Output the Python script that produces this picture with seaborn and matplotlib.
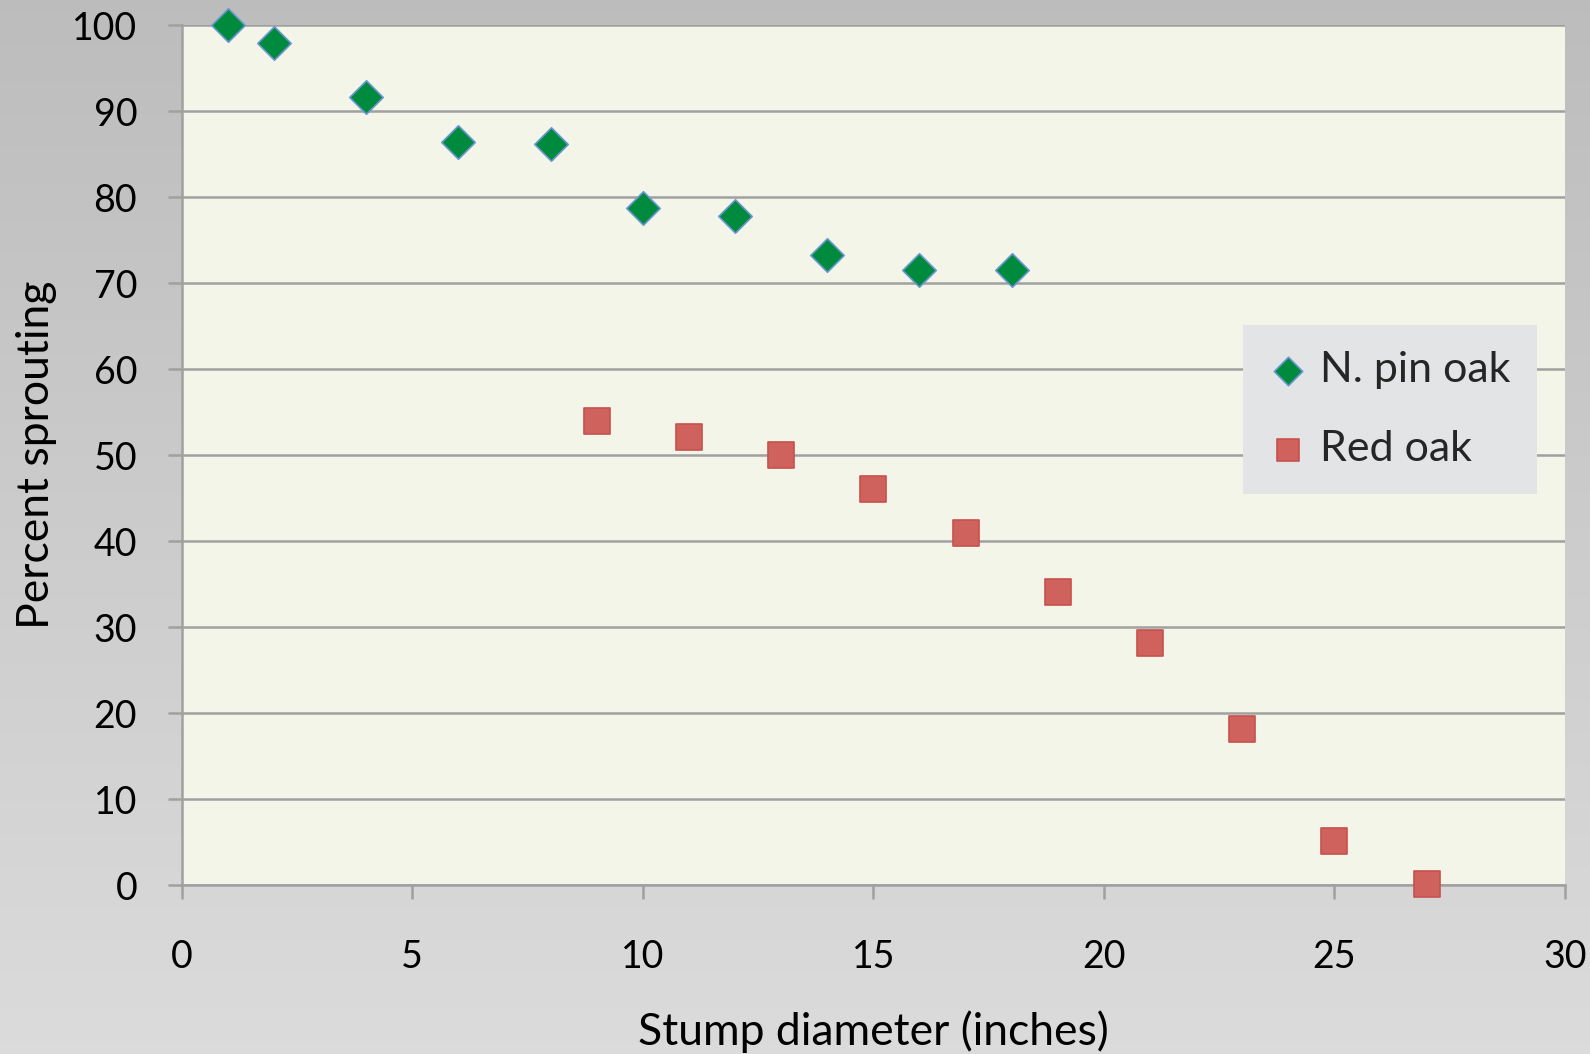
import numpy as np
import pandas as pd
import matplotlib
matplotlib.use("Agg")
import matplotlib.pyplot as plt
import seaborn as sns

# ---- data ----
pin_x = [1, 2, 4, 6, 8, 10, 12, 14, 16, 18]
pin_y = [100, 98, 91.7, 86.4, 86.2, 78.8, 77.8, 73.3, 71.5, 71.5]
red_x = [9, 11, 13, 15, 17, 19, 21, 23, 25, 27]
red_y = [54, 52.1, 50, 46.1, 41, 34.1, 28.1, 18.2, 5.1, 0.1]
series_names = ["N. pin oak", "Red oak"]
x_ticks = [0, 5, 10, 15, 20, 25, 30]
y_ticks = [0, 10, 20, 30, 40, 50, 60, 70, 80, 90, 100]
x_label = "Stump diameter (inches)"
y_label = "Percent sprouting"

pin_df = pd.DataFrame({"x": pin_x, "y": pin_y, "series": series_names[0]})
red_df = pd.DataFrame({"x": red_x, "y": red_y, "series": series_names[1]})

sns.set_theme(style="white")
plt.rcParams["font.family"] = ["Lato", "DejaVu Sans"]

fig = plt.figure(figsize=(15.9, 10.54), dpi=100)

# gradient background
bg = fig.add_axes([0, 0, 1, 1], zorder=-10)
grad = np.linspace(0, 1, 256).reshape(-1, 1)
top = np.array([0.74, 0.74, 0.74])
bot = np.array([0.86, 0.86, 0.86])
img = top[None, None, :] * (1 - grad[:, :, None]) + bot[None, None, :] * grad[:, :, None]
bg.imshow(img, aspect="auto", extent=[0, 1, 0, 1])
bg.set_axis_off()

ax = fig.add_axes([0.1142, 0.1603, 0.8701, 0.8156])
ax.set_facecolor("#F2F5E8")

sns.scatterplot(data=pin_df, x="x", y="y", ax=ax, marker="D", s=290,
                color="#008A3E", edgecolor="#6A96D0", linewidth=1.2,
                label=series_names[0], clip_on=False, zorder=5)
sns.scatterplot(data=red_df, x="x", y="y", ax=ax, marker="s", s=340,
                color="#D0625E", edgecolor="#C8504C", linewidth=1.2,
                label=series_names[1], clip_on=False, zorder=5)

ax.set_xlim(0, 30)
ax.set_ylim(0, 100)
ax.set_xticks(x_ticks)
ax.set_yticks(y_ticks)
ax.set_xticklabels([str(v) for v in x_ticks])
ax.set_yticklabels([str(v) for v in y_ticks])

ax.grid(axis="y", color="#A0A0A0", linewidth=1.8)
ax.grid(axis="x", visible=False)
ax.set_axisbelow(True)

for side in ["top", "right"]:
    ax.spines[side].set_visible(False)
for side in ["left", "bottom"]:
    ax.spines[side].set_visible(True)
    ax.spines[side].set_color("#A0A0A0")
    ax.spines[side].set_linewidth(1.8)

ax.tick_params(axis="y", which="major", direction="out", length=10, width=1.8,
               color="#A0A0A0", labelsize=27, pad=22, left=True, labelcolor="black")
ax.tick_params(axis="x", which="major", direction="out", length=10, width=1.8,
               color="#A0A0A0", labelsize=27, pad=29, bottom=True, labelcolor="black")

ax.set_xlabel(x_label, fontsize=32, labelpad=25, color="black")
ax.set_ylabel(y_label, fontsize=32, labelpad=11, color="black")

leg = ax.legend(loc="upper left", bbox_to_anchor=(0.767, 0.651), frameon=True,
                fontsize=31, facecolor="#E3E4E6", edgecolor="none",
                framealpha=1, fancybox=False, handletextpad=0.3,
                handlelength=0.9, borderpad=0.6, labelspacing=0.95,
                borderaxespad=0, markerscale=0.85)

fig.savefig("out.png", dpi=100)
